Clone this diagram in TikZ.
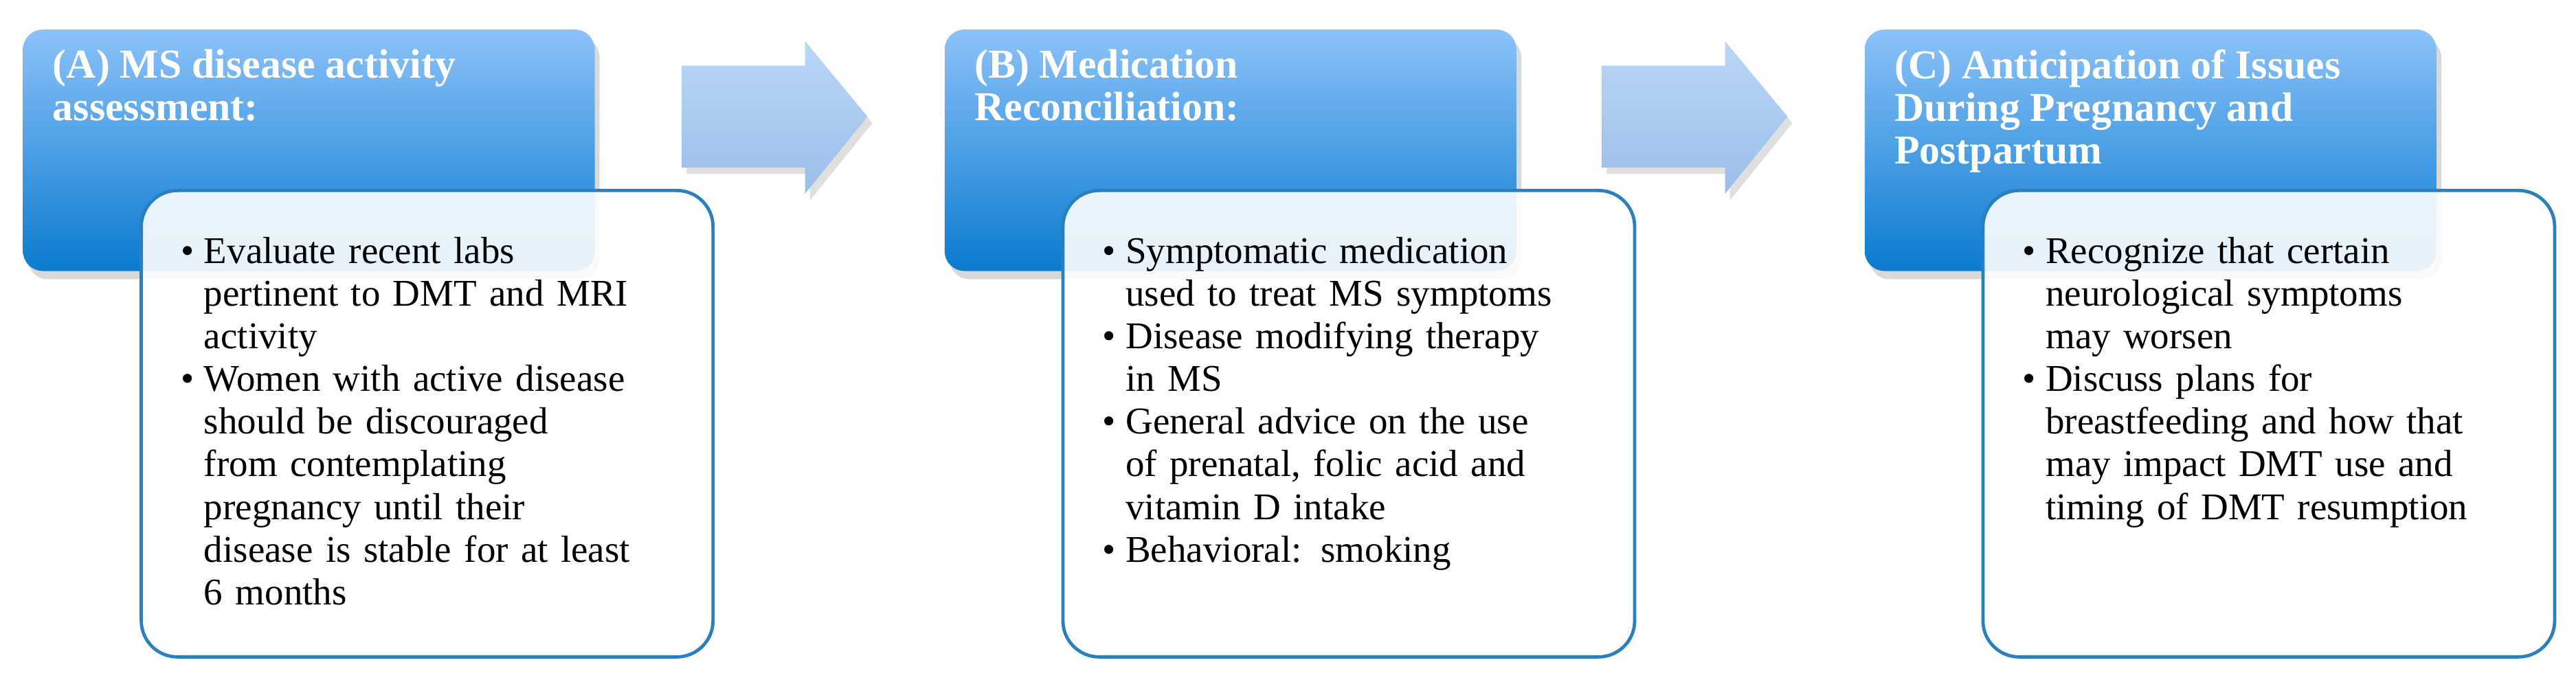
\documentclass[tikz,border=0pt]{standalone}
\usepackage{fontspec}
\setmainfont{Liberation Serif}
\usetikzlibrary{shadows}
\begin{document}
\begin{tikzpicture}[x=1pt,y=-1pt,
  head/.style={rounded corners=12pt,top color=blue1,bottom color=blue2,drop shadow={shadow xshift=3pt,shadow yshift=-5pt,opacity=0.3}},
  body/.style={rounded corners=22pt,draw=bord,line width=2pt,fill=white,fill opacity=0.9,text opacity=1},
  htxt/.style={anchor=north west,text=white,font=\fontsize{25}{26}\selectfont\bfseries,align=left,inner sep=0pt},
  btxt/.style={anchor=north west,font=\fontsize{23}{26}\selectfont,align=left,text width=330pt,inner sep=0pt},
  arr/.style={top color=arr1,bottom color=arr2,drop shadow={shadow xshift=3pt,shadow yshift=-4pt,opacity=0.25}}]
\definecolor{blue1}{HTML}{8CC2FA}
\definecolor{blue2}{HTML}{0A7BCF}
\definecolor{bord}{HTML}{2A7FBE}
\definecolor{arr1}{HTML}{BAD7F8}
\definecolor{arr2}{HTML}{9BBEE8}
\path[use as bounding box] (0,0) rectangle (1568,414);
\newcommand{\blk}[4]{%
  \path[head] (#1,18) rectangle ++(348,147);
  \node[htxt] (#2h) at (#1+18,30) {#3};
  \path[body] (#1+72,116) rectangle ++(348,284);
  \node[btxt] (#2b) at (#1+92,134) {#4};
}
\newcommand{\arrw}[1]{\path[arr] (#1,40) -- ++(75,0) -- ++(0,-15) -- ++(38,46) -- ++(-38,47) -- ++(0,-16) -- ++(-75,0) -- cycle;}
\newenvironment{blist}{\begin{list}{\textbullet}{\leftmargin=18pt\labelwidth=12pt\labelsep=6pt\itemsep=0pt\parsep=0pt\topsep=0pt}}{\end{list}}
\blk{14}{a}{(A) MS disease activity\\assessment:}{%
\begin{blist}
\item Evaluate recent labs\\pertinent to DMT and MRI\\activity
\item Women with active disease\\should be discouraged\\from contemplating\\pregnancy until their\\disease is stable for at least\\6 months
\end{blist}}
\blk{575}{b}{(B) Medication\\Reconciliation:}{%
\begin{blist}
\item Symptomatic medication\\used to treat MS symptoms
\item Disease modifying therapy\\in MS
\item General advice on the use\\of prenatal, folic acid and\\vitamin D intake
\item Behavioral: smoking
\end{blist}}
\blk{1135}{c}{(C) Anticipation of Issues\\During Pregnancy and\\Postpartum}{%
\begin{blist}
\item Recognize that certain\\neurological symptoms\\may worsen
\item Discuss plans for\\breastfeeding and how that\\may impact DMT use and\\timing of DMT resumption
\end{blist}}
\arrw{415}
\arrw{975}
\end{tikzpicture}
\end{document}
